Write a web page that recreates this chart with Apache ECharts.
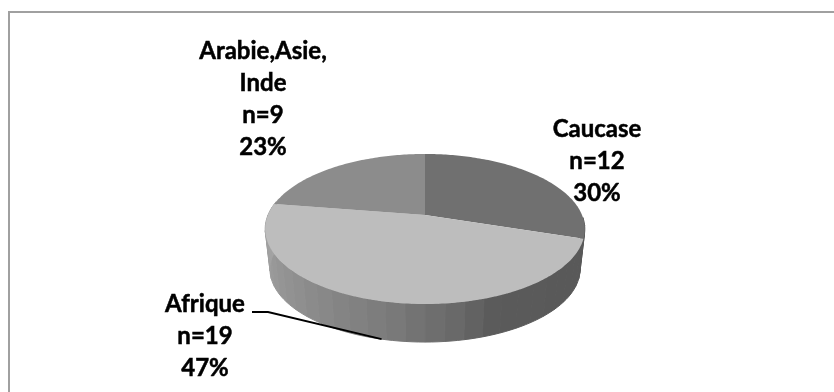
<!DOCTYPE html>
<html>
<head>
<meta charset="utf-8">
<script src="https://cdn.jsdelivr.net/npm/echarts@6/dist/echarts.min.js"></script>
<style>html,body{margin:0;padding:0;background:#fff}#c{width:834px;height:392px}</style>
</head>
<body>
<div id="c"></div>
<script>
const categories = ['Caucase', 'Afrique', 'Arabie,Asie,\nInde'];
const counts = [12, 19, 9];
const percents = [30, 47, 23];

const faceColors = ['#707070', '#bdbdbd', '#8c8c8c'];
const labelCentres = [[597, 161], [205, 336], [263, 99]];
const leaderSlice = 1;

// perspective projection of the pie disc
const P = { cx: 425, cy: 215, a: 157, b: 72.4, c: 0.1867, depth: 40.7, bottomScale: 0.97 };
function project(deg, bottom) {
  const t = deg * Math.PI / 180, u = Math.sin(t), d = -Math.cos(t), w = 1 - P.c * d;
  const s = bottom ? P.bottomScale : 1;
  return [P.cx + s * P.a * u / w, P.cy + (bottom ? P.depth : 0) + s * P.b * d / w];
}
function sideShade(deg) {
  const stops = [[90, 88], [158, 90], [172, 106], [193, 124], [230, 146], [280, 168]];
  let v = stops[stops.length - 1][1];
  for (let i = 1; i < stops.length; i++) {
    if (deg <= stops[i][0]) {
      const f = (deg - stops[i - 1][0]) / (stops[i][0] - stops[i - 1][0]);
      v = stops[i - 1][1] + f * (stops[i][1] - stops[i - 1][1]);
      break;
    }
  }
  v = Math.round(v);
  return 'rgb(' + v + ',' + v + ',' + v + ')';
}
const total = counts.reduce((s, v) => s + v, 0);

function renderSlice(params, api) {
  const i = params.dataIndex;
  let start = 0;
  for (let k = 0; k < i; k++) start += counts[k];
  start = start / total * 360;
  const end = start + api.value(0) / total * 360;
  const children = [];

  // visible rim, drawn in narrow facets
  const facet = 6;
  const from = Math.max(start, 92), to = Math.min(end, 281);
  for (let a = from; a < to; a += facet) {
    const b = Math.min(a + facet, to);
    const col = sideShade((a + b) / 2);
    const pts = [];
    for (let x = a; x <= b + 1e-6; x += (b - a) / 3) pts.push(project(x, false));
    for (let x = b; x >= a - 1e-6; x -= (b - a) / 3) pts.push(project(x, true));
    children.push({ type: 'polygon', shape: { points: pts }, style: { fill: col, stroke: col, lineWidth: 1 }, z2: 1 });
  }

  // top face
  const top = [[P.cx, P.cy]];
  for (let x = start; x < end; x += 1) top.push(project(x, false));
  top.push(project(end, false));
  children.push({ type: 'polygon', shape: { points: top }, style: { fill: faceColors[i] }, z2: 2 });

  // leader line to the middle of the slice's rim
  if (i === leaderSlice) {
    const tip = project((start + end) / 2, true);
    children.push({
      type: 'polyline',
      shape: { points: [[252, 312], [268, 312], tip] },
      style: { stroke: '#000', lineWidth: 1.8, fill: null },
      z2: 3
    });
  }

  children.push({
    type: 'text',
    x: labelCentres[i][0], y: labelCentres[i][1],
    style: {
      text: categories[i] + '\nn=' + api.value(0) + '\n' + percents[i] + '%',
      fill: '#000',
      font: 'bold 24px Lato',
      lineHeight: 32,
      align: 'center',
      verticalAlign: 'middle',
      stroke: '#000',
      lineWidth: 0.5
    },
    z2: 4
  });
  return { type: 'group', children };
}

const chart = echarts.init(document.getElementById('c'), null, { renderer: 'canvas' });
chart.setOption({
  animation: false,
  backgroundColor: '#fff',
  graphic: [{
    type: 'polyline',
    shape: { points: [[9, 392], [9, 12], [834, 12]] },
    style: { stroke: '#a0a0a0', lineWidth: 2, fill: null },
    silent: true
  }],
  series: [{
    type: 'custom',
    coordinateSystem: 'none',
    renderItem: renderSlice,
    data: counts.map((v, i) => ({ name: categories[i], value: [v] })),
    silent: true
  }]
});
</script>
</body>
</html>
